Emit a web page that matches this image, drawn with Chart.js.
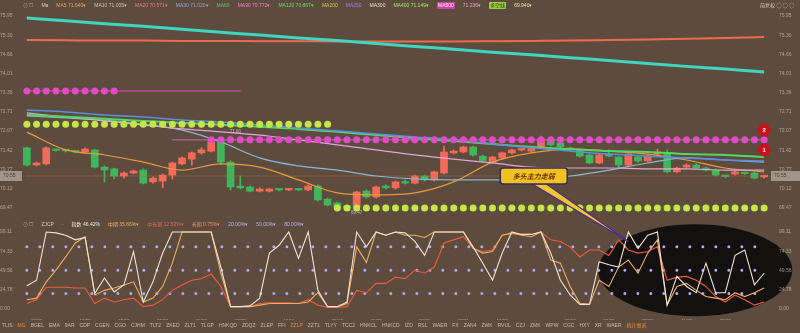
<!DOCTYPE html>
<html>
<head>
<meta charset="utf-8">
<script src="https://cdn.jsdelivr.net/npm/chart.js@4.4.1/dist/chart.umd.min.js"></script>
<style>
	body { margin: 0; background: #5d4c3d; }
	#wrap { position: relative; width: 800px; height: 333px; overflow: hidden; font-family: "Liberation Sans", "Noto Sans CJK SC", sans-serif; }
	#graph { position: absolute; left: 0; top: 0; }
	.row { position: absolute; display: flex; gap: 8px; font-size: 5px; line-height: 7px; white-space: nowrap; }
	#topLegend { left: 23px; top: 2px; }
	#oscLegend { left: 23px; top: 221px; }
	#tabs { left: 2px; top: 322px; gap: 5px; }
	#tools { position: absolute; left: 760px; top: 2px; font-size: 5px; line-height: 7px; color: #d8cabb; white-space: nowrap; }
	.tag { padding: 0 1px; border-radius: 1px; }
</style>
</head>
<body>
<div id="wrap">
	<canvas id="graph" width="800" height="333"></canvas>
	<div id="topLegend" class="row"></div>
	<div id="oscLegend" class="row"></div>
	<div id="tabs" class="row"></div>
	<div id="tools">前复权 ◯ ◯ ◯</div>
</div>
<script>
// candles (77 bars)
var opens  = [71.50, 70.92, 70.96, 71.43, 71.43, 71.39, 71.36, 71.43, 70.85, 70.79, 70.55, 70.65, 70.75, 70.35, 70.38, 70.58, 70.96, 71.12, 71.33, 71.39,
	71.70, 71.02, 70.21, 70.18, 70.04, 70.04, 70.11, 70.08, 70.11, 70.08, 70.21, 69.77, 69.64, 69.54, 69.50, 70.04, 69.84, 70.21, 70.15, 70.35,
	70.31, 70.55, 70.42, 70.65, 71.33, 71.36, 71.53, 71.22, 71.02, 71.16, 71.33, 71.43, 71.39, 71.53, 71.77, 71.66, 71.50, 71.43, 71.26, 70.99,
	71.29, 71.19, 70.92, 71.19, 71.06, 71.29, 71.33, 70.69, 70.85, 70.92, 70.82, 70.75, 70.55, 70.62, 70.65, 70.65, 70.52];
var closes = [70.92, 70.99, 71.50, 71.41, 71.40, 71.36, 71.46, 70.85, 70.75, 70.55, 70.65, 70.72, 70.31, 70.48, 70.58, 70.99, 71.16, 71.33, 71.43, 71.70,
	71.02, 70.18, 70.15, 70.04, 70.11, 70.11, 70.08, 70.11, 70.08, 70.21, 69.74, 69.57, 69.50, 69.47, 70.01, 69.84, 70.18, 70.15, 70.35, 70.31,
	70.55, 70.42, 70.69, 71.36, 71.39, 71.53, 71.26, 71.06, 71.19, 71.33, 71.43, 71.44, 71.50, 71.80, 71.60, 71.53, 71.43, 71.22, 70.99, 71.26,
	71.22, 70.92, 71.29, 71.06, 71.22, 71.36, 70.69, 70.82, 70.92, 70.82, 70.75, 70.58, 70.53, 70.69, 70.63, 70.48, 70.55];
var highs  = [71.53, 71.02, 71.53, 71.46, 71.46, 71.42, 71.50, 71.46, 70.89, 70.82, 70.69, 70.75, 70.79, 70.52, 70.62, 71.02, 71.19, 71.36, 71.50, 71.80,
	71.77, 71.06, 70.55, 70.21, 70.15, 70.13, 70.13, 70.13, 70.13, 70.25, 70.25, 69.80, 69.67, 69.57, 70.04, 70.08, 70.21, 70.25, 70.38, 70.42,
	70.58, 70.58, 70.72, 71.56, 71.43, 71.56, 71.56, 71.26, 71.22, 71.36, 71.46, 71.46, 71.53, 71.90, 71.80, 71.70, 71.53, 71.46, 71.29, 71.29,
	71.43, 71.22, 71.33, 71.22, 71.26, 71.46, 71.43, 70.85, 70.96, 70.96, 70.85, 70.79, 70.58, 70.72, 70.68, 70.69, 70.58];
var lows   = [70.89, 70.89, 70.92, 71.39, 71.36, 71.33, 71.33, 70.82, 70.35, 70.45, 70.48, 70.62, 70.28, 70.31, 70.15, 70.45, 70.92, 70.92, 71.29, 71.36,
	70.92, 70.08, 70.11, 70.01, 70.01, 70.01, 70.05, 70.05, 70.05, 70.05, 69.70, 69.54, 69.47, 69.44, 69.40, 69.80, 69.80, 70.11, 70.11, 70.28,
	70.28, 70.38, 70.38, 70.62, 71.29, 71.33, 71.22, 71.02, 70.99, 71.12, 71.29, 71.40, 71.36, 71.50, 71.56, 71.50, 71.40, 71.19, 70.96, 70.96,
	71.19, 70.80, 70.89, 71.02, 71.02, 71.26, 70.65, 70.65, 70.82, 70.79, 70.72, 70.55, 70.50, 70.58, 70.60, 70.45, 70.48];

// moving-average style lines, read every 4th bar
var maIdx     = [0, 4, 8, 12, 16, 20, 24, 28, 32, 36, 40, 44, 48, 52, 56, 60, 64, 68, 72, 76];
var maTeal    = [75.88, 75.79, 75.69, 75.60, 75.50, 75.40, 75.31, 75.21, 75.12, 75.02, 74.92, 74.83, 74.73, 74.64, 74.54, 74.45, 74.35, 74.25, 74.16, 74.06];
var maSalmon  = [75.14, 75.13, 75.12, 75.12, 75.11, 75.11, 75.10, 75.10, 75.09, 75.09, 75.09, 75.09, 75.10, 75.11, 75.12, 75.14, 75.16, 75.18, 75.21, 75.24];
var maBlue    = [72.78, 72.71, 72.61, 72.54, 72.44, 72.37, 72.27, 72.17, 72.07, 71.97, 71.87, 71.77, 71.63, 71.50, 71.39, 71.29, 71.22, 71.16, 71.09, 71.06];
var maGreen   = [72.61, 72.55, 72.48, 72.41, 72.34, 72.28, 72.21, 72.14, 72.04, 71.93, 71.83, 71.73, 71.63, 71.53, 71.46, 71.39, 71.36, 71.29, 71.26, 71.19];
var maPink    = [72.68, 72.54, 72.41, 72.27, 72.14, 72.04, 71.93, 71.77, 71.60, 71.43, 71.26, 71.12, 70.99, 70.85, 70.82, 70.82, 70.79, 70.79, 70.75, 70.75];
var maSteel   = [72.58, 72.51, 72.44, 72.30, 72.10, 71.70, 71.16, 70.89, 70.75, 70.55, 70.45, 70.42, 70.42, 70.42, 70.55, 70.75, 70.99, 71.16, 71.09, 71.02];
var maOrange  = [72.03, 71.43, 71.26, 71.02, 70.75, 70.96, 70.85, 70.42, 69.98, 69.91, 69.98, 70.35, 71.02, 71.33, 71.46, 71.39, 71.29, 71.09, 70.82, 70.69];

// signal dots: level, first bar, last bar
var dotLevels = [72.30, 69.47, 73.42, 71.77];
var dotFrom   = [0, 32, 0, 19];
var dotTo     = [31, 76, 9, 76];
var lastPrice = 70.55;
var signalBar    = 76;
var signalPrices = [72.10, 71.43];
var signalText   = ['2', '1'];

// oscillator panel
var oscWhite  = [30, 37, 99.1, 98, 95, 89, 92, 20, 40, 22, 31, 74, 9, 35, 72, 99.1, 99.1, 99.1, 99.1, 99.1,
	54, 3, 3, 4, 14, 72, 82, 99.1, 65, 99.1, 24, 3, 3, 9, 99.1, 80, 99.1, 95, 99.1, 98,
	87, 69, 99.1, 99.1, 99.1, 99.1, 80, 59, 37, 72, 99.1, 96, 96, 99.1, 72, 37, 18, 6, 6, 61,
	57, 54, 99.1, 78, 95, 99.1, 5, 42, 29, 21, 59, 21, 21, 69, 76, 31, 46];
var oscOrange = [12, 14, 35, 50, 67, 85, 93, 18, 24, 27, 31, 35, 9, 14, 29, 59, 99.1, 99.1, 99.1, 99.1,
	46, 3, 3, 3, 5, 7, 7, 7, 7, 9, 21, 3, 3, 7, 80, 60, 99.1, 95, 99.1, 95,
	95, 92, 99.1, 99.1, 99.1, 99.1, 78, 72, 74, 95, 98, 95, 93, 99.1, 63, 59, 29, 7, 6, 37,
	29, 54, 63, 46, 72, 89, 5, 29, 33, 24, 16, 14, 12, 21, 16, 21, 27];
var oscRed    = [7, 12, 28, 28, 28, 27, 27, 7, 14, 9, 12, 14, 3, 5, 12, 24, 31, 37, 39, 45,
	29, 3, 3, 3, 7, 8, 8, 8, 7, 12, 5, 2, 2, 3, 24, 21, 33, 33, 41, 39,
	50, 46, 54, 85, 89, 93, 78, 74, 76, 95, 97, 96, 96, 99.1, 89, 87, 80, 67, 76, 76,
	69, 89, 76, 72, 74, 80, 37, 41, 42, 37, 29, 16, 9, 18, 12, 5, 9];
var oscLevels = [20, 50, 80];

// axes
var priceTicks = [75.95, 75.63, 75.30, 74.98, 74.66, 74.33, 74.01, 73.69, 73.36, 73.04, 72.71, 72.39, 72.07, 71.74, 71.42, 71.09, 70.77, 70.45, 70.12, 69.80, 69.47];
var oscTicks   = [0, 12.39, 24.78, 37.17, 49.56, 61.94, 74.33, 86.72, 99.11];
var dateIdx    = [1, 6, 10, 14, 18, 22, 27, 32, 36, 41, 45, 49, 56, 60, 64, 68, 72];
var dateTicks  = ['15/26', '10/25', '05/13', '09/08', '09/26', '12/28', '10/11', '05/13', '09/08', '05/26', '12/21', '10/08', '09/12', '09/09', '09/26', '11/28', '09/09'];

// legends and tab bar
var topItems  = ['⊙ ☐', 'Ma', 'MA5 71.640▾', 'MA10 71.005▾', 'MA20 70.571▾', 'MA30 71.020▾', 'MA60', 'MA90 70.772▾', 'MA120 70.867▾', 'MA200', 'MA250', 'MA300', 'MA400 71.149▾', 'MA500', '71.236▾', '多空线', '69.940▾'];
var topColors = ['#b8aa98', '#d8d0c0', '#f0a040', '#c8c4c0', '#f07c7c', '#8fa8d8', '#50d060', '#f080c8', '#60e060', '#e8c040', '#c070f0', '#e0dcd8', '#a8e070', '#ffffff', '#e8a0d8', '#2a3a10', '#d8e8a0'];
var topBg     = ['', '', '', '', '', '', '', '', '', '', '', '', '', '#d040a8', '', '#9ad040', ''];
var oscItems  = ['⊙ ☐', 'ZJCP', '·', '指数 46.42%', '中期 35.66%▾', '中长期 12.52%▾', '长期 0.75%▾', '20.00%▾', '50.00%▾', '80.00%▾'];
var oscColors = ['#b8aa98', '#d8d0c0', '#d8d0c0', '#f0e8d8', '#f0b060', '#f06050', '#f08a70', '#b8b0f0', '#b8b0f0', '#b8b0f0'];
var tabNames  = ['TLIS', 'MG', 'BGEL', 'EMA', '9AR', 'CDP', 'CGEN', 'CGO', 'CJHM', 'TLT2', 'ZKED', 'ZLT1', 'TLGP', 'HNKQD', 'ZDQZ', 'ZLEP', 'FFI', 'ZZLP', 'ZZT1',
	'TLYY', 'TCC2', 'HNKCL', 'HNKCD', 'IZD', 'RSL', 'WAER', 'FX', 'ZAN4', 'ZWK', 'RVUL', 'CZJ', 'ZMK', 'WPW', 'CGC', 'HXY', 'XR', 'WAER', '统计图表'];
var tabActive = ['MG', 'ZZLP', '统计图表'];

function fillRow(id, items, colors, bgs) {
	var row = document.getElementById(id);
	items.forEach((t, i) => {
		var s = document.createElement('span');
		s.textContent = t;
		s.style.color = colors[i];
		if (bgs && bgs[i]) { s.className = 'tag'; s.style.background = bgs[i]; }
		row.appendChild(s);
	});
}
fillRow('topLegend', topItems, topColors, topBg);
fillRow('oscLegend', oscItems, oscColors);
fillRow('tabs', tabNames, tabNames.map(t => tabActive.includes(t) ? '#f08a30' : '#cbbba8'));

var N = opens.length;
var labels = Array.from({ length: N }, (_, i) => {
	var k = dateIdx.indexOf(i);
	return k >= 0 ? dateTicks[k] : '';
});

function sparse(idx, vals) {
	var out = new Array(N).fill(null);
	idx.forEach((k, j) => { out[k] = vals[j]; });
	return out;
}
function dotRow(j) {
	var out = new Array(N).fill(null);
	for (var i = dotFrom[j]; i <= dotTo[j]; i++) out[i] = dotLevels[j];
	return out;
}

var candleColor = closes.map((c, i) => c >= opens[i] ? '#f36b58' : '#3db65c');
var axisColor = 'rgba(228,214,196,0.6)';
var tickFont = { size: 5, family: 'Liberation Sans' };

function maLine(vals, color, width) {
	return { type: 'line', data: sparse(maIdx, vals), borderColor: color, borderWidth: width, pointRadius: 0, spanGaps: true, cubicInterpolationMode: 'monotone', yAxisID: 'yL', order: 3 };
}
function dotSet(j, color) {
	return { type: 'line', data: dotRow(j), showLine: false, pointRadius: 3.5, pointBackgroundColor: color, pointBorderWidth: 0, yAxisID: 'yL', order: 1 };
}
function signalSet(k) {
	return { type: 'line', data: sparse([signalBar], [signalPrices[k]]), showLine: false, pointRadius: 6.5, pointBackgroundColor: '#c8121c', pointBorderWidth: 0, yAxisID: 'yL', order: 0 };
}
function flatLine(level, from, to, color, width, axis, dash) {
	return { type: 'line', data: sparse([from, to], [level, level]), borderColor: color, borderWidth: width, borderDash: dash || [], borderCapStyle: 'round', pointRadius: 0, spanGaps: true, yAxisID: axis, order: 4 };
}
function oscLine(vals, color) {
	return { type: 'line', data: vals, borderColor: color, borderWidth: 1.1, pointRadius: 0, tension: 0, yAxisID: 'oL', order: 2 };
}

var decor = {
	id: 'decor',
	beforeDraw(chart) {
		var c = chart.ctx, x = chart.scales.x, o = chart.scales.oL;
		c.save();
		c.fillStyle = '#5d4c3d';
		c.fillRect(0, 0, chart.width, chart.height);
		c.fillStyle = '#131010';
		c.beginPath();
		c.ellipse(x.getPixelForValue(68.9), o.getPixelForValue(50), 97, 46, 0, 0, Math.PI * 2);
		c.fill();
		c.restore();
	},
	afterDatasetsDraw(chart) {
		var c = chart.ctx, x = chart.scales.x, y = chart.scales.yL, o = chart.scales.oL;
		c.save();
		// signal numbers
		c.fillStyle = '#fff';
		c.font = 'bold 6px "Liberation Sans"';
		c.textAlign = 'center';
		c.textBaseline = 'middle';
		signalText.forEach((t, k) => {
			var p = chart.getDatasetMeta(k).data[signalBar];
			c.fillText(t, p.x, p.y + 0.5);
		});
		// small price notes
		c.fillStyle = 'rgba(230,220,205,0.7)';
		c.font = '4.5px "Liberation Sans"';
		c.fillText(highs[19].toFixed(2), x.getPixelForValue(21.5), y.getPixelForValue(72.03));
		c.fillText(dotLevels[1].toFixed(2), x.getPixelForValue(34), y.getPixelForValue(69.30));
		// callout arrow
		var bx = x.getPixelForValue(48.8), bw = 67, by = y.getPixelForValue(70.82), bh = 16;
		var tx = x.getPixelForValue(62), ty = o.getPixelForValue(87);
		c.beginPath();
		c.moveTo(bx + 32, by + bh);
		c.lineTo(bx + 46, by + bh);
		c.lineTo(tx, ty);
		c.closePath();
		c.fillStyle = '#f2c62a';
		c.fill();
		c.strokeStyle = '#4a2c94';
		c.lineWidth = 1.2;
		c.stroke();
		// callout box
		c.fillStyle = '#f2c21e';
		c.strokeStyle = '#3c2860';
		c.lineWidth = 1.6;
		c.beginPath();
		c.roundRect(bx, by, bw, bh, 3);
		c.fill();
		c.stroke();
		c.fillStyle = '#6a2a10';
		c.font = 'italic bold 7px "Noto Sans CJK SC"';
		c.fillText('多头主力走弱', bx + bw / 2, by + bh / 2 + 0.5);
		c.restore();
	},
	afterDraw(chart) {
		var c = chart.ctx, y = chart.scales.yL, area = chart.chartArea;
		var py = y.getPixelForValue(lastPrice);
		c.save();
		c.fillStyle = 'rgba(205,198,190,0.6)';
		c.fillRect(0, py - 5, area.left, 10);
		c.fillRect(area.right + 2, py - 5, chart.width - area.right - 2, 10);
		c.fillStyle = '#4a3a2c';
		c.font = '5px "Liberation Sans"';
		c.textBaseline = 'middle';
		c.fillText(lastPrice.toFixed(2), 3, py);
		c.fillText(lastPrice.toFixed(2), area.right + 5, py);
		c.restore();
	}
};

function yAxis(pos, stack, weight, stackWeight, min, max, ticks, width) {
	return {
		type: 'linear', position: pos, stack: stack, weight: weight, stackWeight: stackWeight, min: min, max: max,
		grid: { display: false }, border: { display: false },
		afterBuildTicks: a => { a.ticks = ticks.map(v => ({ value: v })); },
		afterFit: a => { a.width = width; },
		ticks: { color: axisColor, font: tickFont, padding: 2, crossAlign: pos === 'left' ? 'far' : 'near', callback: v => Number(v).toFixed(2) }
	};
}

var datasets = [
	signalSet(0),
	signalSet(1),
	dotSet(0, '#c4e646'),
	dotSet(1, '#c4e646'),
	dotSet(2, '#e24ac8'),
	dotSet(3, '#e24ac8'),
	flatLine(dotLevels[2], 0, 22, '#e24ac8', 1, 'yL'),
	flatLine(dotLevels[3], 15, 76, '#e070d0', 0.8, 'yL'),
	flatLine(lastPrice, 0, 76, 'rgba(200,110,70,0.55)', 0.8, 'yL'),
	maLine(maTeal, '#3fd6c0', 3),
	maLine(maSalmon, '#f06a50', 2),
	maLine(maBlue, '#5c8ee0', 1.5),
	maLine(maGreen, '#52d862', 2),
	maLine(maPink, '#e0a6d6', 1.2),
	maLine(maSteel, '#84b8d6', 1.2),
	maLine(maOrange, '#eb9a3a', 1.2),
	{ type: 'bar', data: opens.map((v, i) => [v, closes[i]]), backgroundColor: candleColor, barThickness: 7, minBarLength: 1.5, grouped: false, yAxisID: 'yL', order: 5 },
	{ type: 'bar', data: lows.map((v, i) => [v, highs[i]]), backgroundColor: candleColor, barThickness: 1, grouped: false, yAxisID: 'yL', order: 6 },
	oscLine(oscWhite, '#efe4d2'),
	oscLine(oscOrange, '#eeac62'),
	oscLine(oscRed, '#f05a3c')
];
oscLevels.forEach(l => datasets.push(flatLine(l, 0, 76, '#b2a8f4', 3, 'oL', [0, 13])));

new Chart(document.getElementById('graph').getContext('2d'), {
	type: 'bar',
	data: { labels: labels, datasets: datasets },
	options: {
		animation: false,
		responsive: false,
		events: [],
		layout: { padding: { top: 12, bottom: 13, left: 0, right: 0 } },
		plugins: { legend: { display: false }, tooltip: { enabled: false } },
		scales: {
			x: {
				type: 'category', offset: true,
				grid: { display: false }, border: { display: false },
				afterFit: a => { a.height = 10; },
				ticks: { autoSkip: false, maxRotation: 0, color: axisColor, font: { size: 4.5, family: 'Liberation Sans' }, padding: 1 }
			},
			yL: yAxis('left', 'L', 1, 203, 69.234, 76.085, priceTicks, 22),
			oL: yAxis('left', 'L', 0, 95, -1.287, 120.99, oscTicks, 22),
			yR: yAxis('right', 'R', 0, 203, 69.234, 76.085, priceTicks, 31),
			oR: yAxis('right', 'R', 1, 95, -1.287, 120.99, oscTicks, 31)
		}
	},
	plugins: [decor]
});
</script>
</body>
</html>
